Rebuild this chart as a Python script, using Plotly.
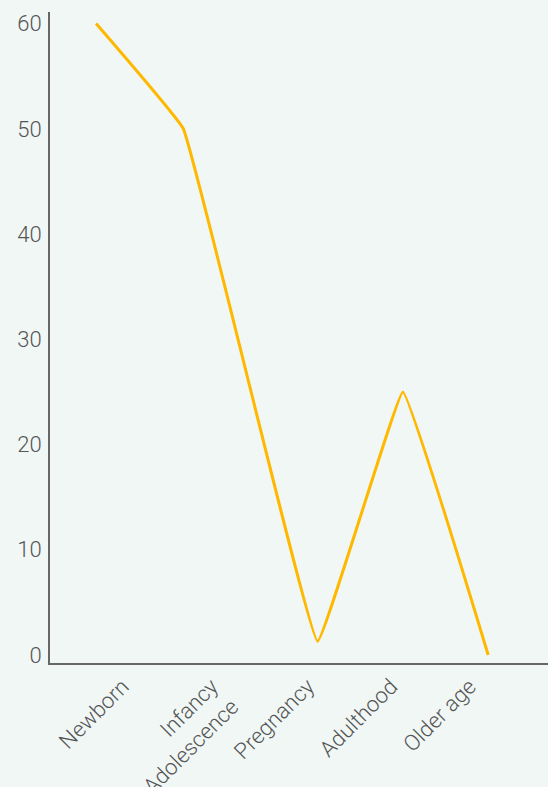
import plotly.graph_objects as go

categories = ["Newborn", "Infancy<br>Adolescence", "Pregnancy", "Adulthood", "Older age"]
values = [60, 50, 1.3, 25, 0]
point_x = [0, 0.89, 2.26, 3.13, 4.0]
label_x = [0.27, 1.18, 2.16, 3.01, 3.81]
y_ticks = [0, 10, 20, 30, 40, 50, 60]

tick_font = dict(family="Roboto, sans-serif", size=22, color="#555555", weight=300)

fig = go.Figure()
fig.add_trace(go.Scatter(
    x=point_x, y=values, mode="lines",
    line=dict(color="#FFB800", width=3, shape="spline", smoothing=0.2),
    hoverinfo="skip", showlegend=False,
))

fig.update_layout(
    width=548, height=787,
    margin=dict(l=50, r=0, t=12, b=124),
    paper_bgcolor="#F0F7F5", plot_bgcolor="#F0F7F5",
    font=tick_font,
    xaxis=dict(range=[-0.47, 4.61], tickvals=label_x, ticktext=categories,
               tickangle=-45, showgrid=False, zeroline=False, tickfont=tick_font,
               showline=True, linecolor="#666666", linewidth=2, ticks="",
               automargin=False, fixedrange=True),
    yaxis=dict(range=[-0.76, 61.1], tickvals=y_ticks, showgrid=False, zeroline=False,
               showline=True, linecolor="#666666", linewidth=2, ticks="", tickfont=tick_font,
               ticklabelstandoff=2, automargin=False, fixedrange=True),
)

fig.write_html("out.html")
